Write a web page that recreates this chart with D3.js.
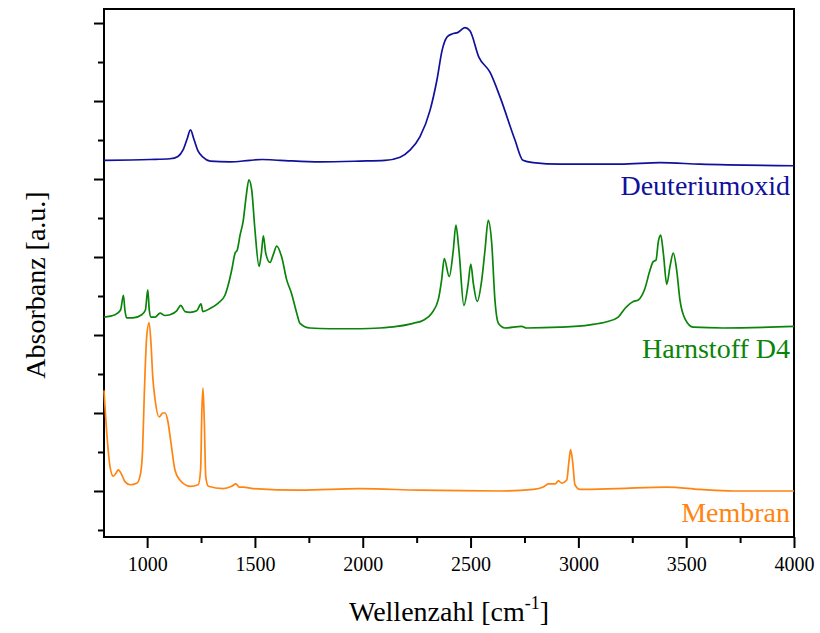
<!DOCTYPE html>
<html>
<head>
<meta charset="utf-8">
<script src="https://cdn.jsdelivr.net/npm/d3@7"></script>
<style>
	body { margin: 0; background: #fff; }
	svg { display: block; }
</style>
</head>
<body>
<svg id="chart" width="820" height="633"></svg>
<script>
// spectra: [wavenumber cm^-1, absorbance a.u. (offset stacked)]
const deuteriumoxid = [
	[800,4.24],[1013,4.25],[1106,4.26],[1143,4.29],[1166,4.37],[1185,4.51],[1201,4.63],[1217,4.51],
	[1236,4.36],[1259,4.28],[1292,4.23],[1384,4.22],[1477,4.24],[1533,4.25],[1616,4.24],[1802,4.22],
	[1987,4.23],[2103,4.24],[2173,4.28],[2219,4.37],[2265,4.54],[2312,4.88],[2344,5.27],[2368,5.65],
	[2391,5.82],[2414,5.86],[2442,5.88],[2474,5.94],[2497,5.90],[2539,5.56],[2590,5.37],[2637,5.05],
	[2706,4.50],[2743,4.24],[2790,4.21],[2915,4.19],[3193,4.19],[3379,4.21],[3564,4.19],[4000,4.17]
];

const harnstoff = [
	[800,2.23],[851,2.26],[877,2.32],[890,2.51],[897,2.32],[905,2.22],[934,2.22],[975,2.26],
	[992,2.32],[1003,2.58],[1010,2.32],[1018,2.23],[1037,2.23],[1060,2.28],[1083,2.25],[1106,2.26],
	[1137,2.31],[1156,2.38],[1176,2.30],[1199,2.29],[1230,2.31],[1250,2.40],[1258,2.30],[1292,2.34],
	[1330,2.41],[1361,2.51],[1376,2.64],[1392,2.83],[1408,3.05],[1418,3.09],[1431,3.28],[1446,3.47],
	[1459,3.77],[1472,3.99],[1485,3.86],[1500,3.35],[1519,2.88],[1530,3.05],[1539,3.27],[1550,3.05],
	[1570,2.93],[1585,3.03],[1601,3.14],[1624,3.00],[1647,2.71],[1670,2.53],[1694,2.28],[1709,2.15],
	[1755,2.09],[1848,2.08],[1987,2.08],[2080,2.09],[2157,2.11],[2234,2.15],[2281,2.19],[2320,2.28],
	[2350,2.45],[2366,2.71],[2378,2.98],[2401,2.75],[2420,3.09],[2432,3.41],[2446,3.09],[2469,2.38],
	[2489,2.66],[2501,2.91],[2513,2.66],[2531,2.43],[2552,2.71],[2567,3.09],[2582,3.47],[2598,3.18],
	[2613,2.45],[2629,2.15],[2660,2.09],[2737,2.11],[2760,2.09],[2915,2.10],[3054,2.13],[3131,2.17],
	[3185,2.23],[3216,2.34],[3255,2.43],[3278,2.45],[3309,2.60],[3332,2.83],[3347,2.94],[3360,2.96],
	[3371,3.20],[3382,3.28],[3394,3.05],[3410,2.65],[3425,2.88],[3440,3.05],[3456,2.83],[3471,2.45],
	[3494,2.21],[3533,2.10],[3672,2.09],[4000,2.11]
];

const membran = [
	[800,1.29],[813,0.74],[828,0.31],[843,0.19],[856,0.23],[866,0.27],[882,0.21],[897,0.12],
	[921,0.08],[952,0.10],[970,0.23],[979,0.53],[987,1.25],[998,1.98],[1009,2.16],[1018,1.89],
	[1026,1.47],[1037,1.17],[1056,0.95],[1072,1.00],[1084,1.00],[1095,0.91],[1111,0.61],[1129,0.27],
	[1152,0.14],[1199,0.06],[1237,0.08],[1248,0.27],[1254,1.04],[1259,1.32],[1265,0.91],[1272,0.18],
	[1284,0.06],[1353,0.03],[1392,0.06],[1412,0.09],[1427,0.05],[1446,0.05],[1492,0.03],[1709,0.01],
	[1987,0.03],[2265,0.01],[2637,0.00],[2791,0.02],[2837,0.05],[2861,0.09],[2892,0.09],[2907,0.13],
	[2923,0.10],[2946,0.14],[2957,0.40],[2964,0.53],[2974,0.36],[2984,0.08],[3007,0.02],[3178,0.03],
	[3410,0.05],[3564,0.02],[3718,0.00],[4000,0.00]
];

const seriesNames = ['Deuteriumoxid', 'Harnstoff D4', 'Membran'];
const xMajorTicks = [1000, 1500, 2000, 2500, 3000, 3500, 4000];
const xMinorTicks = [1250, 1750, 2250, 2750, 3250, 3750];
const yMajorTicks = [0, 1, 2, 3, 4, 5, 6];
const yMinorTicks = [-0.5, 0.5, 1.5, 2.5, 3.5, 4.5, 5.5];

// layout
const plot = { left: 104, right: 794, top: 9, bottom: 537 };
const fontFamily = '"Liberation Serif", "Times New Roman", serif';

const series = [
	{ name: seriesNames[0], data: deuteriumoxid, color: '#10109c', labelY: 3.79 },
	{ name: seriesNames[1], data: harnstoff, color: '#0a840a', labelY: 1.71 },
	{ name: seriesNames[2], data: membran, color: '#ff8410', labelY: -0.40 },
];

const svg = d3.select('#chart');

const x = d3.scaleLinear().domain([800, 4000]).range([plot.left, plot.right]);
const y = d3.scaleLinear().domain([-0.59, 6.18]).range([plot.bottom, plot.top]);

// x axis, major + minor ticks
const xAxis = svg.append('g')
	.attr('transform', `translate(0,${plot.bottom})`)
	.call(d3.axisBottom(x).tickValues(xMajorTicks).tickSize(11).tickPadding(9).tickFormat(d3.format('d')));
svg.append('g')
	.attr('transform', `translate(0,${plot.bottom})`)
	.call(d3.axisBottom(x).tickValues(xMinorTicks).tickSize(6).tickFormat(''));

// y axis, ticks only
svg.append('g')
	.attr('transform', `translate(${plot.left},0)`)
	.call(d3.axisLeft(y).tickValues(yMajorTicks).tickSize(10).tickFormat(''));
svg.append('g')
	.attr('transform', `translate(${plot.left},0)`)
	.call(d3.axisLeft(y).tickValues(yMinorTicks).tickSize(6).tickFormat(''));

svg.selectAll('.domain').remove();
svg.selectAll('.tick line').attr('stroke', '#000').attr('stroke-width', 2);
xAxis.selectAll('text')
	.style('font-family', fontFamily)
	.style('font-size', '20px')
	.attr('fill', '#000');

// frame
svg.append('rect')
	.attr('x', plot.left)
	.attr('y', plot.top)
	.attr('width', plot.right - plot.left)
	.attr('height', plot.bottom - plot.top)
	.attr('fill', 'none')
	.attr('stroke', '#000')
	.attr('stroke-width', 2);

// spectra
const line = d3.line()
	.x((d) => x(d[0]))
	.y((d) => y(d[1]))
	.curve(d3.curveMonotoneX);

series.forEach((s) => {
	svg.append('path')
		.datum(s.data)
		.attr('fill', 'none')
		.attr('stroke', s.color)
		.attr('stroke-width', 1.7)
		.attr('stroke-linejoin', 'round')
		.attr('d', line);

	svg.append('text')
		.attr('x', plot.right - 4)
		.attr('y', y(s.labelY))
		.attr('text-anchor', 'end')
		.style('font-family', fontFamily)
		.style('font-size', '28px')
		.attr('fill', s.color)
		.text(s.name);
});

// axis titles
const xTitle = svg.append('text')
	.attr('x', (plot.left + plot.right) / 2)
	.attr('y', 621)
	.attr('text-anchor', 'middle')
	.style('font-family', fontFamily)
	.style('font-size', '28px')
	.attr('fill', '#000');
xTitle.append('tspan').text('Wellenzahl [cm');
xTitle.append('tspan').attr('dy', -12).style('font-size', '18px').text('-1');
xTitle.append('tspan').attr('dy', 12).text(']');

svg.append('text')
	.attr('transform', 'translate(45,285) rotate(-90)')
	.attr('text-anchor', 'middle')
	.style('font-family', fontFamily)
	.style('font-size', '28px')
	.attr('fill', '#000')
	.text('Absorbanz [a.u.]');
</script>
</body>
</html>
